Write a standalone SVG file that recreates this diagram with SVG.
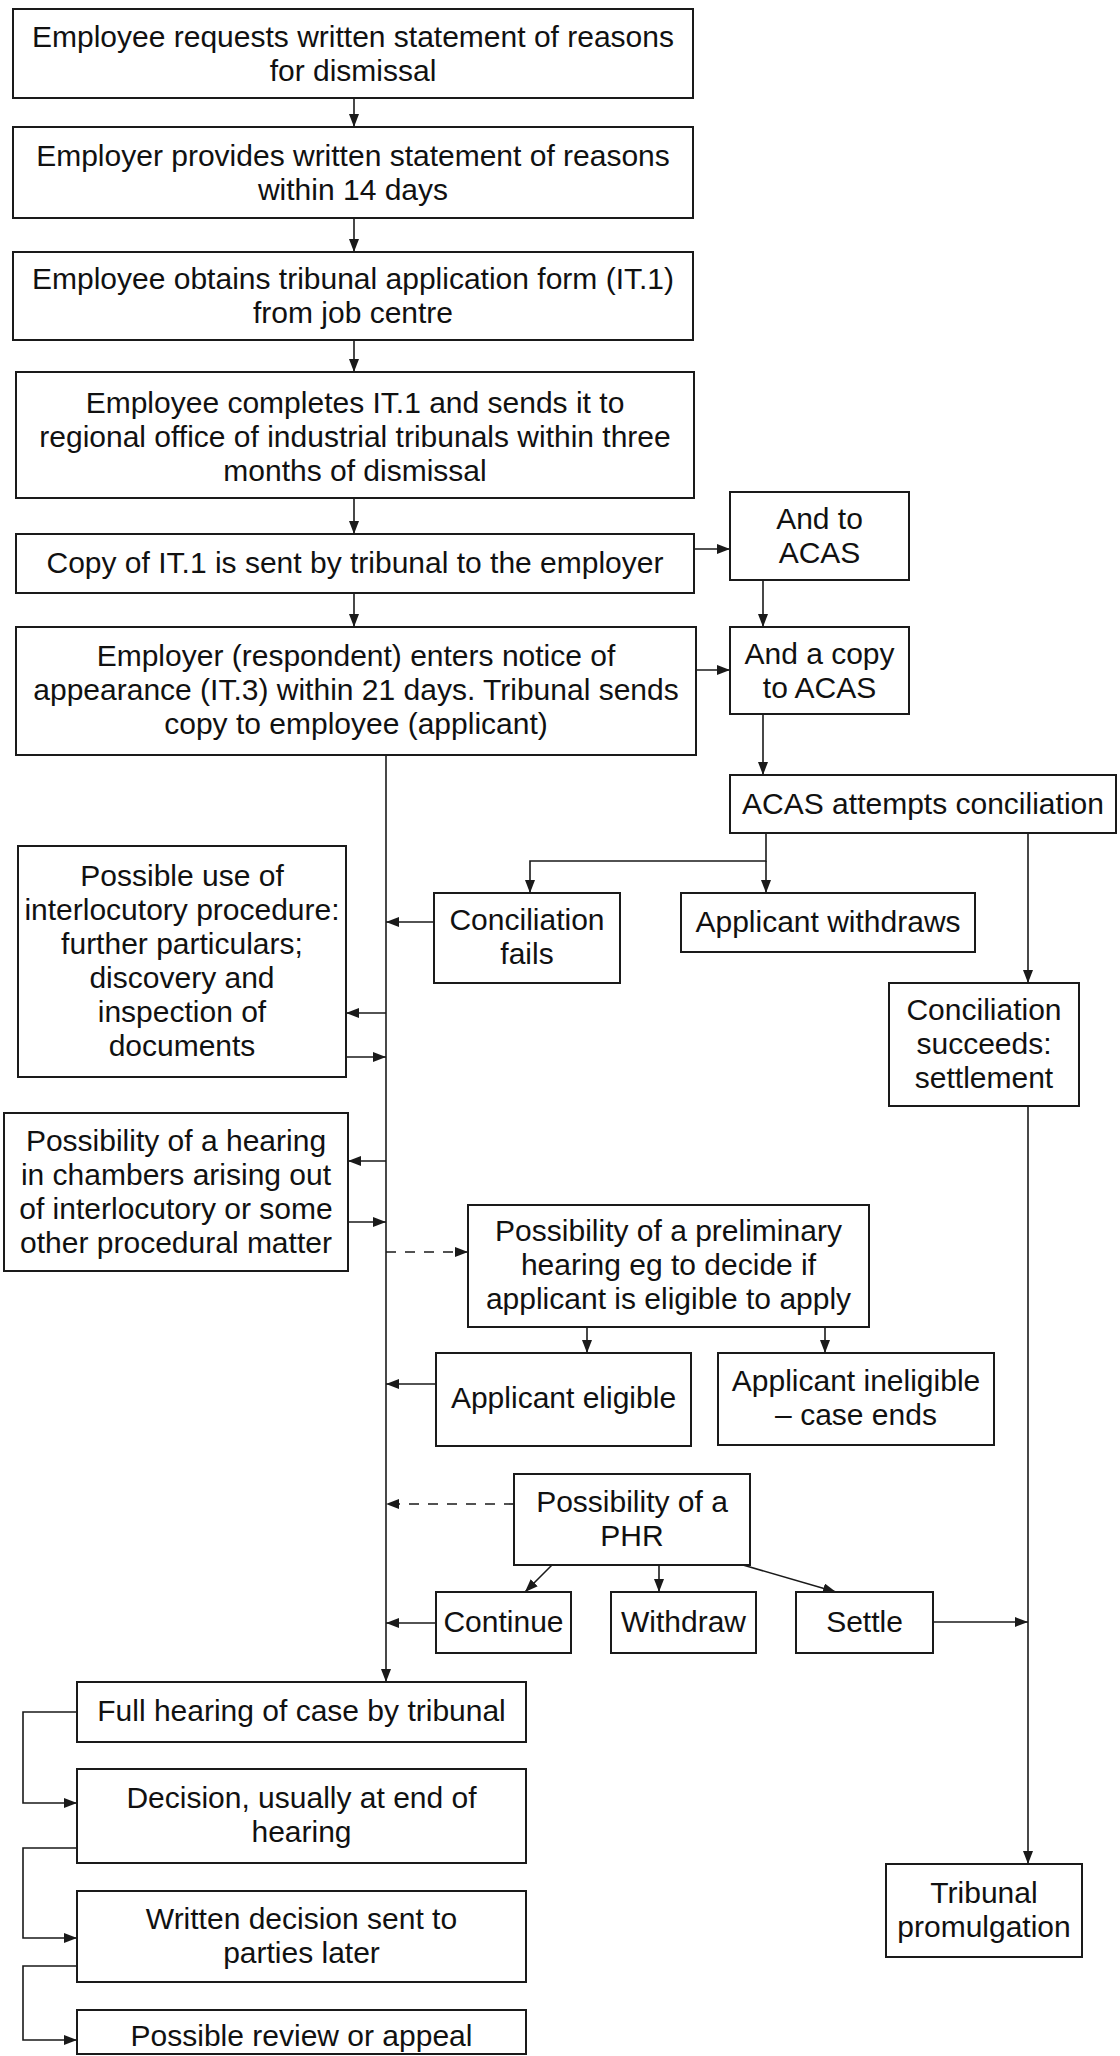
<svg xmlns="http://www.w3.org/2000/svg" width="1120" height="2056" viewBox="0 0 1120 2056">
<style>
.box{fill:#fff;stroke:#1a1a1a;stroke-width:2}
.t{font-family:"Liberation Sans",Arial,sans-serif;font-size:30px;fill:#111;text-anchor:middle}
.c{fill:none;stroke:#1a1a1a;stroke-width:1.6}
.a{marker-end:url(#ah)}
.d{stroke-dasharray:10 9}
</style>
<defs>
<marker id="ah" viewBox="0 0 13 10" refX="13" refY="5" markerWidth="13" markerHeight="10" markerUnits="userSpaceOnUse" orient="auto"><path d="M0,0 L13,5 L0,10 z" fill="#1a1a1a"/></marker>
</defs>
<rect width="1120" height="2056" fill="#fff"/>
<g id="connectors">
<path class="c a" d="M354,98 V127"/>
<path class="c a" d="M354,218 V252"/>
<path class="c a" d="M354,340 V372"/>
<path class="c a" d="M354,498 V534"/>
<path class="c a" d="M354,593 V627"/>
<path class="c a" d="M694,549 H730"/>
<path class="c a" d="M696,670 H730"/>
<path class="c a" d="M763,580 V627"/>
<path class="c a" d="M763,714 V775"/>
<path class="c a" d="M386,755 V1682"/>
<path class="c a" d="M766,833 V861 H530 V893"/>
<path class="c a" d="M766,861 V893"/>
<path class="c a" d="M1028,833 V983"/>
<path class="c a" d="M1028,1106 V1864"/>
<path class="c a" d="M434,922 H386"/>
<path class="c a" d="M386,1013 H346"/>
<path class="c a" d="M346,1057 H386"/>
<path class="c a" d="M386,1161 H348"/>
<path class="c a" d="M348,1222 H386"/>
<path class="c a d" d="M386,1252 H468"/>
<path class="c a" d="M587,1327 V1353"/>
<path class="c a" d="M825,1327 V1353"/>
<path class="c a" d="M436,1384 H386"/>
<path class="c a d" d="M514,1504 H386"/>
<path class="c a" d="M552,1565 L525,1592"/>
<path class="c a" d="M659,1565 V1592"/>
<path class="c a" d="M743,1565 L836,1592"/>
<path class="c a" d="M436,1623 H386"/>
<path class="c a" d="M933,1622 H1028"/>
<path class="c a" d="M77,1712 H23 V1803 H77"/>
<path class="c a" d="M77,1848 H23 V1938 H77"/>
<path class="c a" d="M77,1966 H23 V2040 H77"/>
</g>
<g id="n1"><rect class="box" x="13" y="9" width="680" height="89"/><text class="t"><tspan x="353" y="46.5">Employee requests written statement of reasons</tspan><tspan x="353" y="80.5">for dismissal</tspan></text></g>
<g id="n2"><rect class="box" x="13" y="127" width="680" height="91"/><text class="t"><tspan x="353" y="165.5">Employer provides written statement of reasons</tspan><tspan x="353" y="199.5">within 14 days</tspan></text></g>
<g id="n3"><rect class="box" x="13" y="252" width="680" height="88"/><text class="t"><tspan x="353" y="289">Employee obtains tribunal application form (IT.1)</tspan><tspan x="353" y="323">from job centre</tspan></text></g>
<g id="n4"><rect class="box" x="16" y="372" width="678" height="126"/><text class="t"><tspan x="355" y="413">Employee completes IT.1 and sends it to</tspan><tspan x="355" y="447">regional office of industrial tribunals within three</tspan><tspan x="355" y="481">months of dismissal</tspan></text></g>
<g id="n5"><rect class="box" x="16" y="534" width="678" height="59"/><text class="t" x="355" y="573">Copy of IT.1 is sent by tribunal to the employer</text></g>
<g id="n6"><rect class="box" x="730" y="492" width="179" height="88"/><text class="t"><tspan x="819.5" y="529">And to</tspan><tspan x="819.5" y="563">ACAS</tspan></text></g>
<g id="n7"><rect class="box" x="16" y="627" width="680" height="128"/><text class="t"><tspan x="356" y="666">Employer (respondent) enters notice of</tspan><tspan x="356" y="700">appearance (IT.3) within 21 days. Tribunal sends</tspan><tspan x="356" y="734">copy to employee (applicant)</tspan></text></g>
<g id="n8"><rect class="box" x="730" y="627" width="179" height="87"/><text class="t"><tspan x="819.5" y="664">And a copy</tspan><tspan x="819.5" y="698">to ACAS</tspan></text></g>
<g id="n9"><rect class="box" x="730" y="775" width="386" height="58"/><text class="t" x="923" y="814">ACAS attempts conciliation</text></g>
<g id="n10"><rect class="box" x="18" y="846" width="328" height="231"/><text class="t"><tspan x="182" y="886">Possible use of</tspan><tspan x="182" y="920">interlocutory procedure:</tspan><tspan x="182" y="954">further particulars;</tspan><tspan x="182" y="988">discovery and</tspan><tspan x="182" y="1022">inspection of</tspan><tspan x="182" y="1056">documents</tspan></text></g>
<g id="n11"><rect class="box" x="434" y="893" width="186" height="90"/><text class="t"><tspan x="527" y="930">Conciliation</tspan><tspan x="527" y="964">fails</tspan></text></g>
<g id="n12"><rect class="box" x="681" y="893" width="294" height="59"/><text class="t" x="828" y="932">Applicant withdraws</text></g>
<g id="n13"><rect class="box" x="889" y="983" width="190" height="123"/><text class="t"><tspan x="984" y="1020">Conciliation</tspan><tspan x="984" y="1054">succeeds:</tspan><tspan x="984" y="1088">settlement</tspan></text></g>
<g id="n14"><rect class="box" x="4" y="1113" width="344" height="158"/><text class="t"><tspan x="176" y="1151">Possibility of a hearing</tspan><tspan x="176" y="1185">in chambers arising out</tspan><tspan x="176" y="1219">of interlocutory or some</tspan><tspan x="176" y="1253">other procedural matter</tspan></text></g>
<g id="n15"><rect class="box" x="468" y="1205" width="401" height="122"/><text class="t"><tspan x="668.5" y="1241">Possibility of a preliminary</tspan><tspan x="668.5" y="1275">hearing eg to decide if</tspan><tspan x="668.5" y="1309">applicant is eligible to apply</tspan></text></g>
<g id="n16"><rect class="box" x="436" y="1353" width="255" height="93"/><text class="t" x="563.5" y="1408">Applicant eligible</text></g>
<g id="n17"><rect class="box" x="718" y="1353" width="276" height="92"/><text class="t"><tspan x="856" y="1391">Applicant ineligible</tspan><tspan x="856" y="1425">– case ends</tspan></text></g>
<g id="n18"><rect class="box" x="514" y="1474" width="236" height="91"/><text class="t"><tspan x="632" y="1512">Possibility of a</tspan><tspan x="632" y="1546">PHR</tspan></text></g>
<g id="n19"><rect class="box" x="436" y="1592" width="135" height="61"/><text class="t" x="503.5" y="1632">Continue</text></g>
<g id="n20"><rect class="box" x="611" y="1592" width="145" height="61"/><text class="t" x="683.5" y="1632">Withdraw</text></g>
<g id="n21"><rect class="box" x="796" y="1592" width="137" height="61"/><text class="t" x="864.5" y="1632">Settle</text></g>
<g id="n22"><rect class="box" x="77" y="1682" width="449" height="60"/><text class="t" x="301.5" y="1721">Full hearing of case by tribunal</text></g>
<g id="n23"><rect class="box" x="77" y="1769" width="449" height="94"/><text class="t"><tspan x="301.5" y="1808">Decision, usually at end of</tspan><tspan x="301.5" y="1842">hearing</tspan></text></g>
<g id="n24"><rect class="box" x="77" y="1891" width="449" height="91"/><text class="t"><tspan x="301.5" y="1929">Written decision sent to</tspan><tspan x="301.5" y="1963">parties later</tspan></text></g>
<g id="n25"><rect class="box" x="77" y="2010" width="449" height="44"/><text class="t" x="301.5" y="2046">Possible review or appeal</text></g>
<g id="n26"><rect class="box" x="886" y="1864" width="196" height="93"/><text class="t"><tspan x="984" y="1903">Tribunal</tspan><tspan x="984" y="1937">promulgation</tspan></text></g>
</svg>
